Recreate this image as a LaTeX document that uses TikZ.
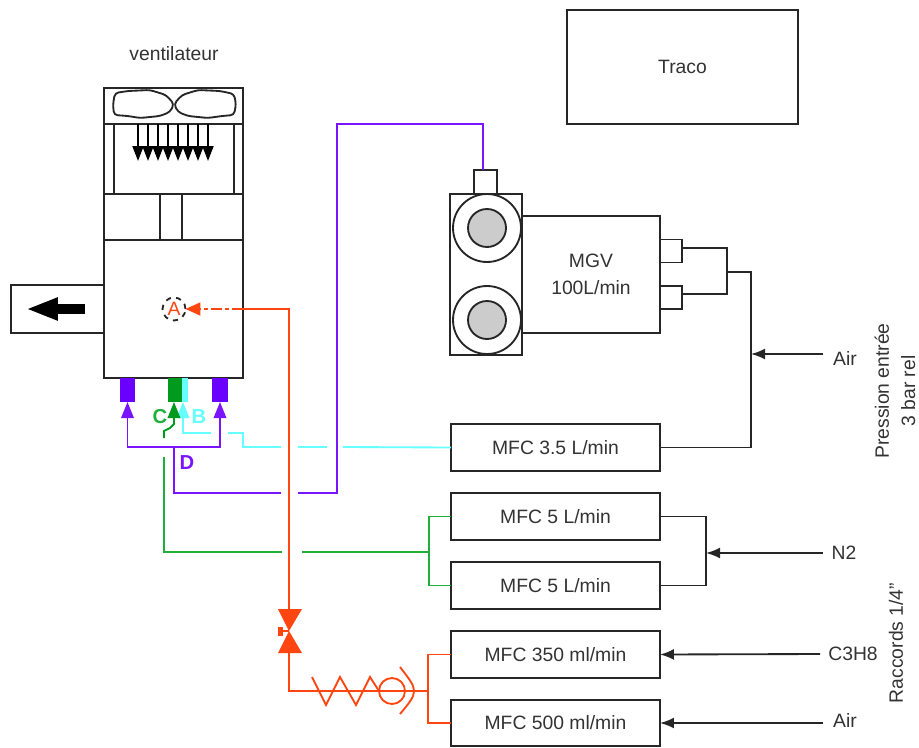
\documentclass[tikz,border=0pt]{standalone}
\usepackage{fontspec}
\setmainfont{Liberation Sans}
\usetikzlibrary{arrows.meta}
\definecolor{gazpurple}{HTML}{7A14FF}
\definecolor{portpurple}{HTML}{6A00FF}
\definecolor{gazcyan}{HTML}{66FFFF}
\definecolor{gazgreen}{HTML}{1FAF3A}
\definecolor{portgreen}{HTML}{009A1E}
\definecolor{gazred}{HTML}{FF4510}
\begin{document}
\begin{tikzpicture}[
    x=0.02cm, y=-0.02cm,
    line width=1.05pt,
    every node/.style={font=\fontsize{11}{15}\selectfont, text=black!80, outer sep=0pt},
    box/.style={rectangle, draw=black!85, fill=white, inner sep=0pt},
    mfc/.style={box, minimum width=4.18cm, minimum height=0.93cm},
    port/.style={rectangle, inner sep=0pt, minimum width=0.31cm, minimum height=0.48cm},
    ring/.style={circle, draw=black!85, fill=white, inner sep=0pt, minimum size=1.36cm},
    core/.style={circle, draw=black!85, fill=black!20, inner sep=0pt, minimum size=0.76cm},
    letter/.style={font=\fontsize{11.5}{13}\selectfont\bfseries},
    edge/.style={draw=black!85},
    feed/.style={draw=black!85, -{Latex[length=0.28cm,width=0.22cm]}},
    blade/.style={draw=black, -{Triangle[length=0.3cm,width=0.22cm]}},
    purpleline/.style={draw=gazpurple},
    cyanline/.style={draw=gazcyan},
    greenline/.style={draw=gazgreen},
    redline/.style={draw=gazred},
    inlet/.style={-{Triangle[length=0.32cm,width=0.25cm]}}
]
    \useasboundingbox (0,0) rectangle (919,747);

    % fan body
    \node[box, minimum width=2.78cm, minimum height=5.8cm] (vent) at (173.5,233) {};
    \node (ventlabel) at (174,54) {ventilateur};
    \draw[edge] (104,124) -- (243,124);
    \draw[edge] (104,194) -- (243,194);
    \draw[edge] (104,240) -- (243,240);
    \draw[edge] (114,124) -- (114,194);
    \draw[edge] (234,124) -- (234,194);
    \draw[edge] (160,194) -- (160,240);
    \draw[edge] (182,194) -- (182,240);
    \draw[edge, rounded corners=2pt] (174,104) -- (166,95) -- (150,90) -- (128,91) -- (115,93) -- (113,104)
        -- (114,115) -- (128,116) -- (140,118) -- (160,116) -- (170,112) -- cycle;
    \draw[edge, rounded corners=2pt] (174,104) -- (182,95) -- (198,90) -- (220,91) -- (234,94) -- (236,104)
        -- (234,115) -- (222,116) -- (208,118) -- (188,116) -- (178,112) -- cycle;
    \draw[blade] (138,124) -- (138,161);
    \draw[blade] (148,124) -- (148,161);
    \draw[blade] (158,124) -- (158,161);
    \draw[blade] (168,124) -- (168,161);
    \draw[blade] (178,124) -- (178,161);
    \draw[blade] (188,124) -- (188,161);
    \draw[blade] (198,124) -- (198,161);
    \draw[blade] (208,124) -- (208,161);

    % exhaust
    \node[box, minimum width=1.86cm, minimum height=0.96cm] (duct) at (57.5,309) {};
    \coordinate (ducta) at (85,309);
    \coordinate (ductb) at (26,309);
    \draw[draw=black, line width=0.2cm, -{Triangle[length=0.64cm,width=0.42cm]}] (ducta) -- (ductb);

    % gas ports
    \node[port, fill=portpurple] (portl) at (127.5,390) {};
    \node[port, fill=gazcyan, minimum width=0.12cm] (portb) at (184.5,390) {};
    \node[port, fill=portgreen, minimum width=0.28cm] (portc) at (175,390) {};
    \node[port, fill=portpurple] (portr) at (220,390) {};

    % sampling point
    \node[circle, draw=black!85, dashed, inner sep=0pt, minimum size=0.46cm, text=gazred] (samp) at (174,309) {A};

    % MGV
    \node[box, minimum width=2.76cm, minimum height=2.34cm, align=center] (mgv) at (591,274.5) {MGV\\100L/min};
    \node[box, minimum width=0.46cm, minimum height=0.48cm] (nub) at (485.5,182) {};
    \node[box, minimum width=1.44cm, minimum height=3.22cm] (head) at (486,274.5) {};
    \node[ring] (ringa) at (487,228) {};
    \node[ring] (ringb) at (487,320) {};
    \node[core] (corea) at (487,228) {};
    \node[core] (coreb) at (487,320) {};
    \node[box, minimum width=0.44cm, minimum height=0.46cm] (stuba) at (671,251) {};
    \node[box, minimum width=0.44cm, minimum height=0.46cm] (stubb) at (671,297.5) {};

    % other boxes
    \node[box, minimum width=4.62cm, minimum height=2.28cm] (traco) at (682.5,67) {Traco};
    \node[mfc] (mfca) at (555.5,447.5) {MFC 3.5 L/min};
    \node[mfc] (mfcb) at (555.5,516.5) {MFC 5 L/min};
    \node[mfc] (mfcc) at (555.5,585.5) {MFC 5 L/min};
    \node[mfc] (mfcd) at (555.5,654.5) {MFC 350 ml/min};
    \node[mfc] (mfce) at (555.5,723) {MFC 500 ml/min};

    % labels
    \node (airtop) at (845,358) {Air};
    \node (nitro) at (844,553) {N2};
    \node (propane) at (853,654) {C3H8};
    \node (airlow) at (845,720) {Air};
    \node[rotate=90, align=center] (press) at (895,391) {Pression entrée\\3 bar rel};
    \node[rotate=90] (fit) at (896,643) {Raccords 1/4"};
    \node[letter, text=gazgreen] (lc) at (160,417) {C};
    \node[letter, text=gazcyan] (lb) at (199,417) {B};
    \node[letter, text=gazpurple] (ld) at (187,463) {D};

    % black supply lines
    \coordinate (air) at (823,354);
    \coordinate (airj) at (751,354);
    \coordinate (airk) at (751,272);
    \coordinate (airm) at (727,272);
    \coordinate (stubc) at (682,248);
    \coordinate (stubd) at (682,294);
    \coordinate (nin) at (823,553);
    \coordinate (nj) at (706,553);
    \coordinate (cin) at (820,654);
    \coordinate (ain) at (823,723);
    \draw[edge] (stubc) -| (airm);
    \draw[edge] (stubd) -| (airm);
    \draw[edge] (airm) -- (airk) -- (airj) |- (mfca.east);
    \draw[feed] (air) -- (airj);
    \draw[edge] (mfcb.east) -| (nj);
    \draw[edge] (mfcc.east) -| (nj);
    \draw[feed] (nin) -- (nj);
    \draw[feed] (cin) -- (mfcd.east);
    \draw[feed] (ain) -- (mfce.east);

    % cyan line
    \coordinate (cya) at (183,433);
    \coordinate (cyb) at (211,433);
    \coordinate (cyc) at (228,433);
    \coordinate (cyd) at (243,447);
    \coordinate (cye) at (281,447);
    \coordinate (cyf) at (298,447);
    \coordinate (cyg) at (327,447);
    \coordinate (cyh) at (343,447);
    \coordinate (cyi) at (183,402);
    \draw[cyanline, inlet] (cyb) -- (cya) -- (cyi);
    \draw[cyanline] (cyc) -| (cyd) -- (cye);
    \draw[cyanline] (cyf) -- (cyg);
    \draw[cyanline] (cyh) -- (mfca.west);

    % green line
    \coordinate (gra) at (174,402);
    \coordinate (grb) at (174,424);
    \coordinate (grc) at (170,428);
    \coordinate (grd) at (164,431);
    \coordinate (gre) at (164,438);
    \coordinate (grf) at (164,457);
    \coordinate (grg) at (282,552);
    \coordinate (grh) at (302,552);
    \coordinate (gri) at (429,552);
    \draw[greenline, draw=portgreen, inlet] (gre) -- (grd) -- (grc) -- (grb) -- (gra);
    \draw[greenline] (grf) |- (grg);
    \draw[greenline] (grh) -- (gri);
    \draw[greenline] (mfcb.west) -| (gri);
    \draw[greenline] (mfcc.west) -| (gri);

    % purple line
    \coordinate (pua) at (174,447);
    \coordinate (pub) at (281,493);
    \coordinate (puc) at (298,493);
    \coordinate (pud) at (337,124);
    \coordinate (pue) at (483,124);
    \coordinate (puf) at (483,170);
    \draw[purpleline, inlet] (pua) -| (portl.south);
    \draw[purpleline, inlet] (pua) -| (portr.south);
    \draw[purpleline] (pua) |- (pub);
    \draw[purpleline] (puc) -| (pud) -- (pue) -- (puf);

    % red line
    \coordinate (rda) at (289,309);
    \coordinate (rdb) at (243,309);
    \coordinate (rdc) at (289,609);
    \coordinate (rdd) at (289,653);
    \coordinate (rde) at (312,691);
    \coordinate (rdf) at (379,691);
    \coordinate (rdg) at (428,691);
    \coordinate (rdh) at (289,631);
    \coordinate (rdi) at (283,631);
    \draw[redline] (rdb) -- (rda) -- (rdc);
    \draw[redline, dash pattern=on 6pt off 2pt on 2pt off 2pt, -{Triangle[length=0.3cm,width=0.26cm]}] (rdb) -- (samp.east);
    \fill[gazred] (278,609) -- (302,609) -- (289,631) -- cycle;
    \fill[gazred] (278,653) -- (302,653) -- (289,631) -- cycle;
    \fill[gazred] (278,627) rectangle (283,636);
    \draw[redline] (rdi) -- (rdh);
    \draw[redline] (rdd) |- (rdg);
    \draw[redline] (312,677) -- (326,705) -- (340,677) -- (356,705) -- (370,677) -- (379,691);
    \draw[redline] (392,691) circle (13);
    \draw[redline] (400,667) .. controls (410,680) and (414,685) .. (414,691) .. controls (414,697) and (410,702) .. (400,714);
    \draw[redline] (mfcd.west) -| (rdg);
    \draw[redline] (mfce.west) -| (rdg);
\end{tikzpicture}
\end{document}
